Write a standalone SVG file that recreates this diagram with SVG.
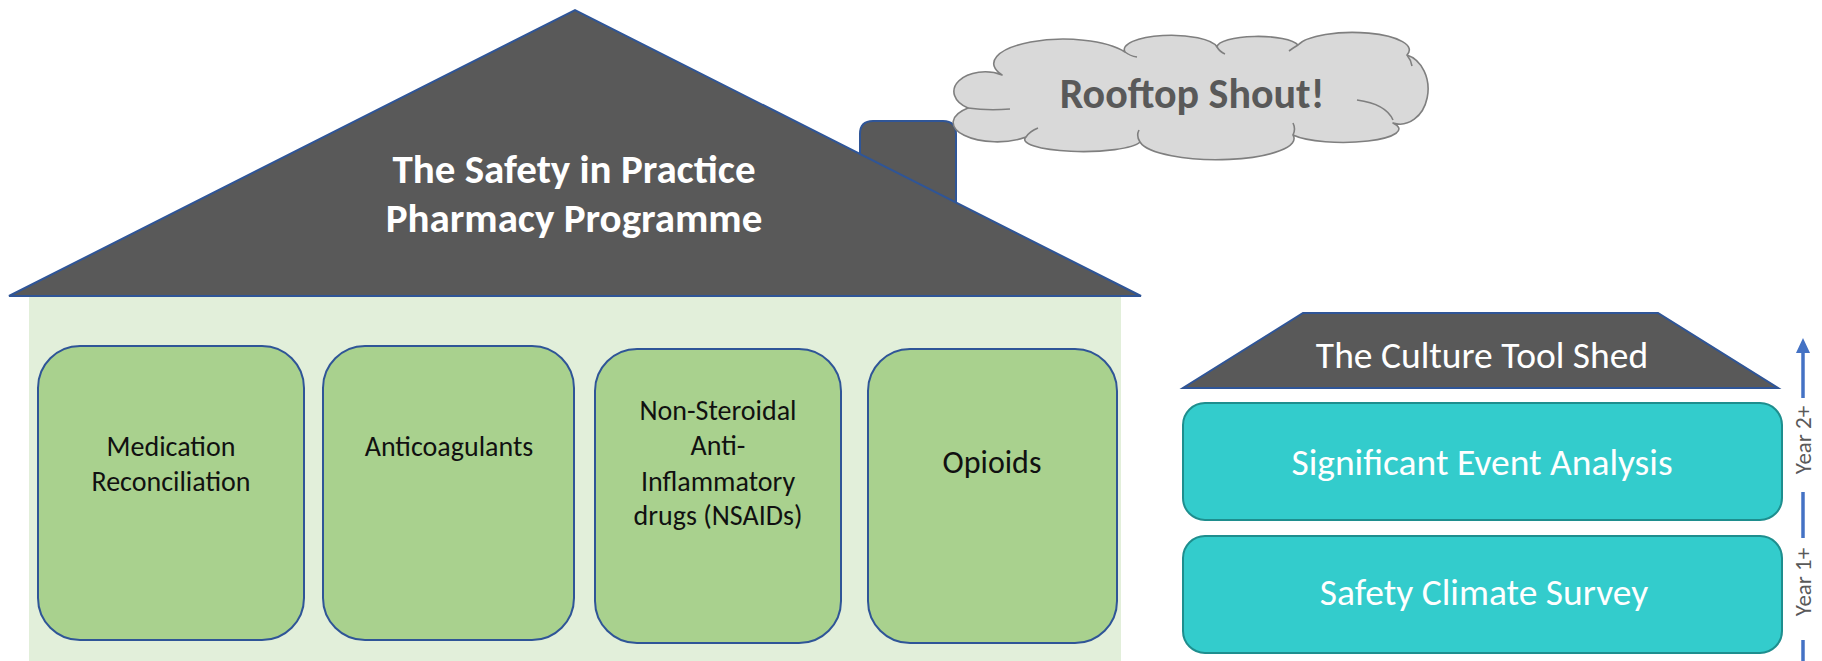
<svg xmlns="http://www.w3.org/2000/svg" width="1822" height="661" viewBox="0 0 1822 661">
  <style>
    .roof { fill: #595959; stroke: #2F5597; stroke-width: 2; stroke-linejoin: miter; }
    .pillar { fill: #A9D18E; stroke: #2F5597; stroke-width: 2; }
    .teal { fill: #33CCCC; stroke: #1E8E8E; stroke-width: 2; }
    .ptext { font-family: Carlito, Calibri, Lato, "Liberation Sans", sans-serif; font-size: 28px; fill: #111111; text-anchor: middle; }
    .title { font-family: Carlito, Calibri, Lato, "Liberation Sans", sans-serif; font-weight: bold; font-size: 41px; fill: #FFFFFF; text-anchor: middle; }
    .wtext { font-family: Carlito, Calibri, Lato, "Liberation Sans", sans-serif; font-size: 37.5px; fill: #FFFFFF; text-anchor: middle; }
    .year { font-family: Carlito, Calibri, Lato, "Liberation Sans", sans-serif; font-size: 23px; fill: #595959; text-anchor: middle; }
    .cloud { fill: #D9D9D9; stroke: #7F7F7F; stroke-width: 1.6; stroke-linejoin: round; }
    .cloudin { fill: none; stroke: #7F7F7F; stroke-width: 1.6; }
    .arrow { stroke: #4472C4; stroke-width: 3.5; fill: none; }
  </style>

  <g id="house">
    <rect x="29" y="296" width="1092" height="365" fill="#E2EFDA"/>
    <path class="roof" d="M860,230 V134 Q860,121 873,121 H943 Q956,121 956,134 V230 Z"/>
    <polygon class="roof" points="9,296 575,10 1141,296"/>
    <text class="title" x="574" y="183">The Safety in Practice</text>
    <text class="title" x="574" y="232">Pharmacy Programme</text>
  </g>

  <g id="pillar-medrec">
    <rect class="pillar" x="38" y="346" width="266" height="294" rx="42" ry="42"/>
    <text class="ptext" x="171" y="456">Medication</text>
    <text class="ptext" x="171" y="491">Reconciliation</text>
  </g>

  <g id="pillar-anticoag">
    <rect class="pillar" x="323" y="346" width="251" height="294" rx="42" ry="42"/>
    <text class="ptext" x="449" y="456">Anticoagulants</text>
  </g>

  <g id="pillar-nsaids">
    <rect class="pillar" x="595" y="349" width="246" height="294" rx="42" ry="42"/>
    <text class="ptext" x="718" y="420">Non-Steroidal</text>
    <text class="ptext" x="718" y="455">Anti-</text>
    <text class="ptext" x="718" y="491">Inflammatory</text>
    <text class="ptext" x="718" y="525">drugs (NSAIDs)</text>
  </g>

  <g id="pillar-opioids">
    <rect class="pillar" x="868" y="349" width="249" height="294" rx="42" ry="42"/>
    <text class="ptext" x="992" y="473" style="font-size:32px">Opioids</text>
  </g>

  <g id="cloud">
    <path class="cloud" d="M1002,75 A63,22 0 0 1 1125,52 A46,14 0 0 1 1217,47 A41,11 0 0 1 1298,45 A55,17 0 0 1 1407,55 A28,35 0 0 1 1393,123 A50,12 0 0 1 1293,135 A77,21 0 0 1 1140,142 A58,12 0 0 1 1026,137 A34,15 0 0 1 968,108 A30,19 0 0 1 1002,75 Z"/>
    <path class="cloudin" d="M968,108 Q988,111 1010,109 M1026,137 Q1030,131 1038,128 M1140,142 Q1136,136 1139,130 M1293,135 Q1296,129 1293,123 M1357,100 Q1386,104 1393,120 M1217,47 Q1220,52 1225,54 M1125,52 Q1130,56 1137,57 M1298,45 Q1293,48 1289,51 M1407,55 Q1411,60 1412,66"/>
    <text x="1192" y="108" font-family="Carlito, Calibri, Lato, 'Liberation Sans', sans-serif" font-weight="bold" font-size="42" fill="#595959" text-anchor="middle">Rooftop Shout!</text>
  </g>

  <g id="shed-roof">
    <polygon class="roof" points="1303,313 1658,313 1778,388 1183,388"/>
    <text class="wtext" x="1482" y="368">The Culture Tool Shed</text>
  </g>

  <g id="sea">
    <rect class="teal" x="1183" y="403" width="599" height="117" rx="22" ry="22"/>
    <text class="wtext" x="1482" y="475">Significant Event Analysis</text>
  </g>

  <g id="scs">
    <rect class="teal" x="1183" y="536" width="599" height="117" rx="22" ry="22"/>
    <text class="wtext" x="1484" y="605">Safety Climate Survey</text>
  </g>

  <g id="connectors">
    <line class="arrow" x1="1803" y1="661" x2="1803" y2="640"/>
    <line class="arrow" x1="1803" y1="538" x2="1803" y2="492"/>
    <line class="arrow" x1="1803" y1="398" x2="1803" y2="350"/>
    <polygon points="1796,353 1803,338 1810,353" fill="#4472C4"/>
    <text class="year" transform="translate(1811,582) rotate(-90)">Year 1+</text>
    <text class="year" transform="translate(1811,440) rotate(-90)">Year 2+</text>
  </g>
</svg>
